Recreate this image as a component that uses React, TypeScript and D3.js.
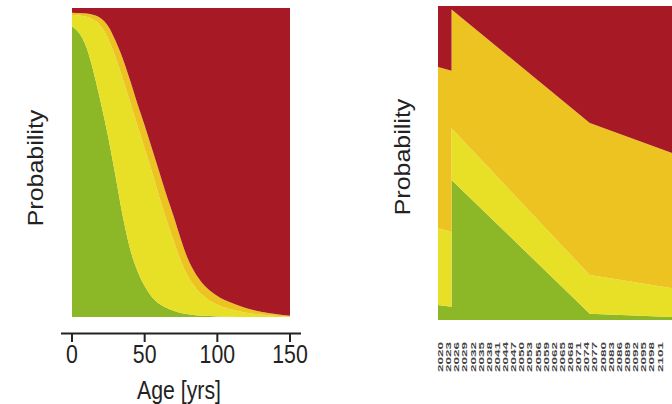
import React from "react";
import * as d3 from "d3";

// ── Data ──────────────────────────────────────────────────────────────────────

// Left panel: probability by age
const ages = [0, 5, 10, 15, 20, 25, 30, 35, 40, 45, 50, 55, 60, 65, 70, 75, 80, 85, 90, 95, 100, 110, 120, 130, 140, 150];
const greenAge = [0.94, 0.918, 0.872, 0.79, 0.69, 0.58, 0.455, 0.325, 0.22, 0.15, 0.1, 0.065, 0.043, 0.03, 0.02, 0.013, 0.009, 0.006, 0.004, 0.003, 0.002, 0.001, 0, 0, 0, 0];
const yellowAge = [0.037, 0.058, 0.1, 0.172, 0.25, 0.32, 0.385, 0.445, 0.475, 0.47, 0.445, 0.405, 0.347, 0.285, 0.225, 0.167, 0.121, 0.089, 0.066, 0.049, 0.038, 0.023, 0.014, 0.008, 0.004, 0.001];
const orangeAge = [0.008, 0.008, 0.01, 0.015, 0.026, 0.04, 0.053, 0.065, 0.07, 0.07, 0.075, 0.075, 0.08, 0.08, 0.08, 0.07, 0.055, 0.045, 0.038, 0.033, 0.028, 0.021, 0.014, 0.009, 0.006, 0.003];
const redAge = [0.015, 0.016, 0.018, 0.023, 0.034, 0.06, 0.107, 0.165, 0.235, 0.31, 0.38, 0.455, 0.53, 0.605, 0.675, 0.75, 0.815, 0.86, 0.892, 0.915, 0.932, 0.955, 0.972, 0.983, 0.99, 0.996];
const ageTicks = [0, 50, 100, 150];

// Right panel: probability by year (year edges; 2025 appears twice for the jump)
const yearEdges = [2020, 2025, 2025, 2076, 2107];
const greenYear = [0.048, 0.042, 0.446, 0.02, 0.009];
const yellowYear = [0.245, 0.238, 0.165, 0.123, 0.091];
const orangeYear = [0.513, 0.514, 0.378, 0.484, 0.43];
const redYear = [0.194, 0.206, 0.011, 0.373, 0.47];
const yearLabels = d3.range(2020, 2102, 3);

// ── Style ─────────────────────────────────────────────────────────────────────

const COLORS = { green: "#8cb827", yellow: "#e8df27", orange: "#edc322", red: "#a71a25" };
const KEYS = ["green", "yellow", "orange", "red"] as const;
const FONT = "'Liberation Sans', Arial, sans-serif";

type Row = { x: number; green: number; yellow: number; orange: number; red: number };

function rows(xs: number[], g: number[], y: number[], o: number[], r: number[]): Row[] {
  return xs.map((x, i) => ({ x, green: g[i], yellow: y[i], orange: o[i], red: r[i] }));
}

function Areas({ data, x, y, curve }: { data: Row[]; x: d3.ScaleLinear<number, number>; y: d3.ScaleLinear<number, number>; curve: d3.CurveFactory }) {
  const series = d3.stack<Row>().keys(KEYS as unknown as string[])(data);
  const area = d3
    .area<d3.SeriesPoint<Row>>()
    .x((d) => x(d.data.x))
    .y0((d) => y(d[0]))
    .y1((d) => y(d[1]))
    .curve(curve);
  return (
    <g>
      {series.map((s) => (
        <path key={s.key} d={area(s) ?? ""} fill={COLORS[s.key as keyof typeof COLORS]} />
      ))}
    </g>
  );
}

// Text squeezed horizontally like the source bitmap
function Label({ x, y, rotate = 0, size, anchor = "middle", children }: { x: number; y: number; rotate?: number; size: number; anchor?: string; children: React.ReactNode }) {
  return (
    <g transform={`translate(${x},${y}) scale(0.85,1) rotate(${rotate})`}>
      <text fontFamily={FONT} fontSize={size} fill="#222" textAnchor={anchor}>
        {children}
      </text>
    </g>
  );
}

export default function App() {
  // left panel scales
  const xL = d3.scaleLinear().domain([0, 150]).range([72, 290]);
  const yL = d3.scaleLinear().domain([0, 1]).range([317, 8]);
  // right panel scales
  const xR = d3.scaleLinear().domain([2020, 2107]).range([438, 673.8]);
  const yR = d3.scaleLinear().domain([0, 1]).range([320, 6]);

  const axisY = 333.5;

  return (
    <svg width={672} height={404} style={{ position: "absolute", left: 0, top: 0, background: "#fff" }}>
      {/* Left panel */}
      <Areas data={rows(ages, greenAge, yellowAge, orangeAge, redAge)} x={xL} y={yL} curve={d3.curveMonotoneX} />
      <line x1={61} x2={301} y1={axisY} y2={axisY} stroke="#222" strokeWidth={2} />
      {ageTicks.map((t) => (
        <g key={t}>
          <line x1={xL(t)} x2={xL(t)} y1={axisY} y2={axisY + 8.5} stroke="#222" strokeWidth={2} />
          <Label x={xL(t)} y={363} size={25}>{t}</Label>
        </g>
      ))}
      <Label x={179} y={399} size={25}>Age [yrs]</Label>
      <Label x={43} y={168} size={25} rotate={-90}>Probability</Label>

      {/* Right panel */}
      <Areas data={rows(yearEdges, greenYear, yellowYear, orangeYear, redYear)} x={xR} y={yR} curve={d3.curveLinear} />
      <Label x={410} y={157} size={25} rotate={-90}>Probability</Label>
      {yearLabels.map((yr) => (
        <g key={yr} transform={`translate(${xR(yr + 0.5) + 1},342) rotate(-90) scale(1.8,1)`}>
          <text fontFamily={FONT} fontSize={7.5} fontWeight="bold" fill="#444" textAnchor="end" dy="0.35em">
            {yr}
          </text>
        </g>
      ))}
    </svg>
  );
}
